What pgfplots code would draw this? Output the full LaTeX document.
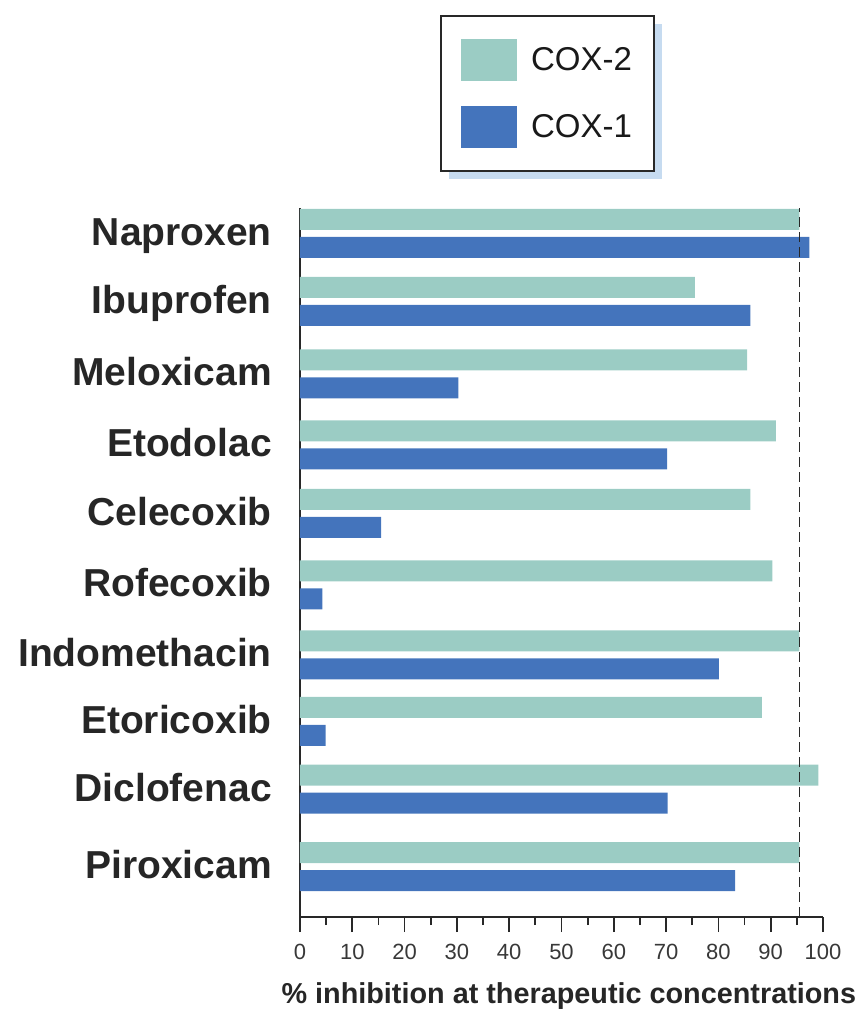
\documentclass[border=0pt]{standalone}
\usepackage{fontspec}
\setmainfont{Liberation Sans}
\usepackage{pgfplots}
\pgfplotsset{compat=1.18}
\usepackage{pgfplotstable}
\usetikzlibrary{shadows}
\definecolor{coxtwo}{RGB}{155,204,196}
\definecolor{coxone}{RGB}{68,116,188}
\definecolor{shadowcol}{RGB}{198,219,240}
\definecolor{axisgray}{RGB}{40,40,40}
\makeatletter
\tikzset{noshadow/.code={\let\tikz@preactions\pgfutil@empty}}
\makeatother

\pgfplotstableread{
name pos cox2 cox1
Naproxen 683.5 95.5 97.4
Ibuprofen 615.5 75.5 86.1
Meloxicam 543 85.5 30.3
Etodolac 472 91.0 70.2
Celecoxib 403.5 86.1 15.5
Rofecoxib 332 90.3 4.3
Indomethacin 262 95.5 80.1
Etoricoxib 195.5 88.3 4.9
Diclofenac 128 99.1 70.3
Piroxicam 50.5 95.5 83.2
}\drugdata

\begin{document}
\begin{tikzpicture}
\path[use as bounding box] (-300pt,-92pt) rectangle (559pt,917pt);
\begin{axis}[
  at={(0pt,0pt)}, anchor=south west,
  scale only axis, width=523pt, height=709pt,
  xmin=0, xmax=100, ymin=0, ymax=709,
  axis x line*=bottom, axis y line*=left,
  axis line style={line width=1.8pt, color=axisgray},
  xbar, bar width=21pt,
  xtick={0,10,...,100}, minor x tick num=1,
  tick align=outside,
  major tick length=15pt, minor tick length=8pt,
  xtick style={line width=1.8pt, color=axisgray},
  ytick={683.5,615.5,543,472,403.5,332,262,195.5,128,50.5},
  yticklabels={Naproxen,Ibuprofen,Meloxicam,Etodolac,Celecoxib,Rofecoxib,Indomethacin,Etoricoxib,Diclofenac,Piroxicam},
  ytick style={draw=none},
  yticklabel style={font=\fontsize{39}{44}\selectfont\bfseries, text=black!85, inner sep=0pt, xshift=-13pt, yshift=2pt, text height=28pt, text depth=0pt},
  xticklabel style={font=\fontsize{22}{26}\selectfont, text=black!78, yshift=-9pt},
  /pgf/number format/assume math mode=true,
  xlabel={\% inhibition at therapeutic concentrations},
  xlabel style={font=\fontsize{28.8}{34}\selectfont\bfseries, text=black!85, at={(axis description cs:0.514,-0.1215)}, anchor=base},
  legend style={
    at={(axis description cs:0.2677,1.2722)}, anchor=north west,
    draw=axisgray, line width=2.2pt, fill=white,
    drop shadow={shadow xshift=8pt, shadow yshift=-8pt, fill=shadowcol, opacity=1},
    inner xsep=20pt, inner ysep=23pt,
    row sep=24.5pt,
    font=\fontsize{33}{38}\selectfont,
    nodes={inner sep=2pt, text=black!90},
    /tikz/every odd column/.append style={column sep=12pt},
  },
  legend cell align=left,
  clip=false,
]
\addplot[fill=coxtwo, draw=none, bar shift=0pt,
  legend image code/.code={\fill[noshadow, coxtwo] (0pt,-21pt) rectangle (56pt,21pt);}]
  table[x=cox2, y expr=\thisrow{pos}+14] {\drugdata};
\addlegendentry{COX-2}
\addplot[fill=coxone, draw=none, bar shift=0pt,
  legend image code/.code={\fill[noshadow, coxone] (0pt,-21pt) rectangle (56pt,21pt);}]
  table[x=cox1, y expr=\thisrow{pos}-14] {\drugdata};
\addlegendentry{COX-1}
\addplot[forget plot, sharp plot, dash pattern=on 10pt off 5pt, line width=1pt, color=axisgray]
  coordinates {(95.5,0) (95.5,709)};
\end{axis}
\end{tikzpicture}
\end{document}
